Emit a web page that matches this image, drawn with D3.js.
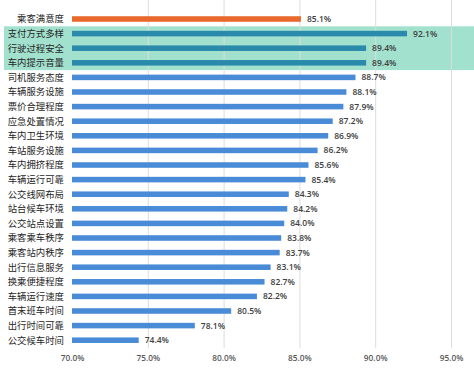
<!DOCTYPE html>
<html><head><meta charset="utf-8">
<script src="https://cdn.jsdelivr.net/npm/d3@7"></script>
<style>html,body{margin:0;padding:0;background:#fff;}</style>
</head><body>
<svg id="c" width="474" height="372"></svg>
<script>
const categories = ["乘客满意度","支付方式多样","行驶过程安全","车内提示音量","司机服务态度","车辆服务设施","票价合理程度","应急处置情况","车内卫生环境","车站服务设施","车内拥挤程度","车辆运行可靠","公交线网布局","站台候车环境","公交站点设置","乘客乘车秩序","乘客站内秩序","出行信息服务","换乘便捷程度","车辆运行速度","首末班车时间","出行时间可靠","公交候车时间"];
const values = [85.1,92.1,89.4,89.4,88.7,88.1,87.9,87.2,86.9,86.2,85.6,85.4,84.3,84.2,84.0,83.8,83.7,83.1,82.7,82.2,80.5,78.1,74.4];
const highlighted = ["支付方式多样","行驶过程安全","车内提示音量"];
const overall = ["乘客满意度"];
const xTicks = [70,75,80,85,90,95];

const svg = d3.select("#c");
const x = d3.scaleLinear().domain([70,95]).range([72,451]);
const y = d3.scaleBand().domain(categories).range([11.7,347.5]).paddingInner(0.62).paddingOuter(0.31);
const step = y.step();

// highlight band
const hi = highlighted.map(c=>y(c));
const bandTop = d3.min(hi) - y.paddingInner()*step/2;
const bandBot = d3.max(hi) + y.bandwidth() + y.paddingInner()*step/2;
svg.append("rect").attr("x",4).attr("y",bandTop).attr("width",470).attr("height",bandBot-bandTop).attr("fill","#a2e1cd");

// gridlines
svg.append("g").selectAll("line").data(xTicks.slice(1)).join("line")
  .attr("x1",d=>x(d)+0.5).attr("x2",d=>x(d)+0.5).attr("y1",0).attr("y2",348)
  .attr("stroke","#dcdcdc").attr("stroke-width",1);

// bars
svg.append("g").selectAll("rect").data(categories).join("rect")
  .attr("x",x(70)).attr("y",d=>y(d)).attr("height",y.bandwidth())
  .attr("width",(d,i)=>x(values[i])-x(70))
  .attr("fill",d=>overall.includes(d)?"#e8692b":highlighted.includes(d)?"#2a8aab":"#4a8bd8");

// value labels
svg.append("g").selectAll("text").data(categories).join("text")
  .attr("x",(d,i)=>x(values[i])+6).attr("y",d=>y(d)+y.bandwidth()/2)
  .attr("dy","0.35em").attr("font-family","'Open Sans',sans-serif").attr("font-weight",600)
  .attr("font-size","8.5px").attr("fill","#404040")
  .text((d,i)=>values[i].toFixed(1)+"%");

// category labels
svg.append("g").selectAll("text").data(categories).join("text")
  .attr("x",64).attr("y",d=>y(d)+y.bandwidth()/2).attr("dy","0.36em")
  .attr("text-anchor","end").attr("font-family","'Noto Sans CJK SC',sans-serif")
  .attr("font-size","9.4px").attr("fill","#262626").text(d=>d);

// x axis
const ax = d3.axisBottom(x).tickValues(xTicks).tickFormat(d=>d.toFixed(1)+"%").tickSize(0).tickPadding(0);
const g = svg.append("g").attr("transform","translate(0,355)").call(ax);
g.select(".domain").remove();
g.selectAll("text").attr("font-family","'Open Sans',sans-serif").attr("font-weight",600)
  .attr("font-size","8.3px").attr("fill","#595959");
</script>
</body></html>
